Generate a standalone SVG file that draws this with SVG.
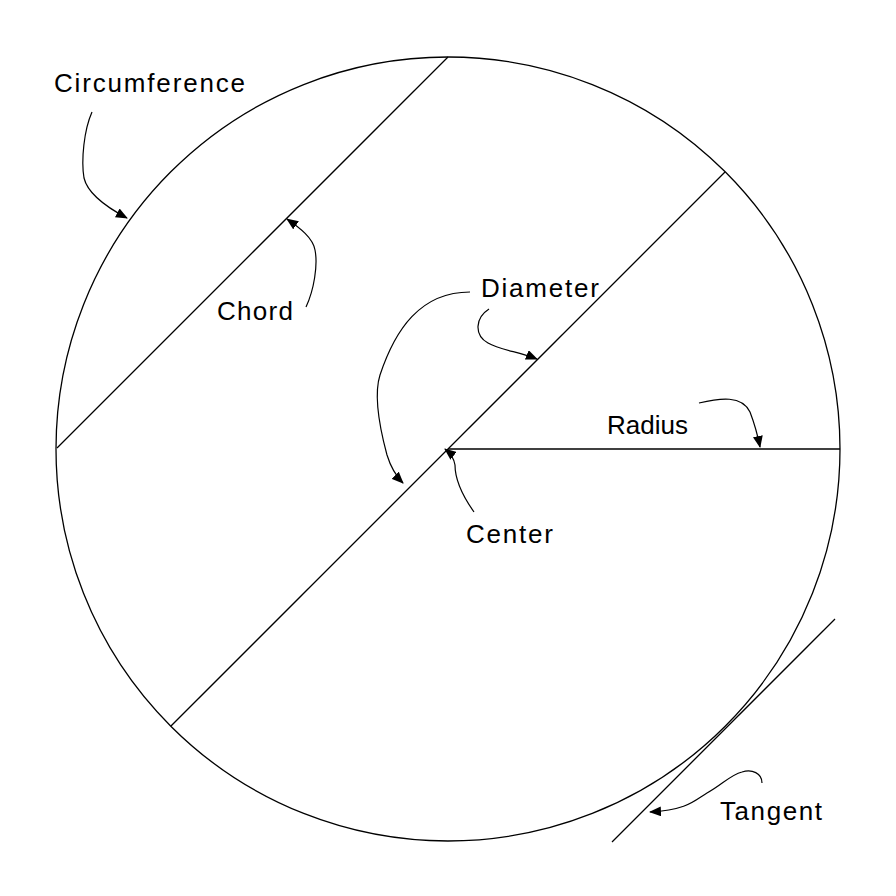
<svg xmlns="http://www.w3.org/2000/svg" width="896" height="896" viewBox="0 0 896 896">
<style>
.geo{fill:none;stroke:#000;stroke-width:1.3}
.conn{fill:none;stroke:#000;stroke-width:1.2;marker-end:url(#ah)}
.lbl{font-family:"Liberation Sans","DejaVu Sans",sans-serif;font-size:26px;fill:#000}
</style>
<defs>
<marker id="ah" viewBox="0 0 12 10" refX="11" refY="5" markerWidth="12" markerHeight="10" markerUnits="userSpaceOnUse" orient="auto">
<path d="M0,0 L12,5 L0,10 Z" fill="#000"/>
</marker>
</defs>
<rect width="896" height="896" fill="#fff"/>
<g id="figure">
<circle id="circle" class="geo" cx="448" cy="449" r="392"/>
<line id="chord" class="geo" x1="448" y1="57" x2="57" y2="448"/>
<line id="diameter" class="geo" x1="725" y1="172" x2="171" y2="726"/>
<line id="radius" class="geo" x1="448" y1="449" x2="840" y2="449"/>
<line id="tangent" class="geo" x1="835" y1="619" x2="612" y2="842"/>
</g>
<g id="connectors">
<path class="conn" d="M92,112 C84,130 81,160 84,178 C88,195 108,208 127,218"/>
<path class="conn" d="M306,307 C314,290 318,265 315,250 C313,238 300,228 287,219"/>
<path class="conn" d="M470,292 C420,292 395,330 380,375 C372,400 383,440 387,455 C391,468 396,476 403,483"/>
<path class="conn" d="M489,309 C475,318 474,335 488,343 C500,350 520,352 537,359"/>
<path class="conn" d="M474,512 C462,495 455,480 455,465 C454,458 450,453 445,449"/>
<path class="conn" d="M699,403 C720,398 742,395 750,412 C755,425 758,437 760,447"/>
<path class="conn" d="M762,783 C762,773 752,769 742,772 C730,775 722,785 707,793 C695,800 688,810 650,812"/>
</g>
<g id="label-circumference"><text class="lbl" x="54" y="92" textLength="191">Circumference</text></g>
<g id="label-chord"><text class="lbl" x="217" y="320" textLength="76">Chord</text></g>
<g id="label-diameter"><text class="lbl" x="481" y="297" textLength="118">Diameter</text></g>
<g id="label-radius"><text class="lbl" x="607" y="434" textLength="81">Radius</text></g>
<g id="label-center"><text class="lbl" x="466" y="543" textLength="87">Center</text></g>
<g id="label-tangent"><text class="lbl" x="720" y="820" textLength="102">Tangent</text></g>
</svg>
